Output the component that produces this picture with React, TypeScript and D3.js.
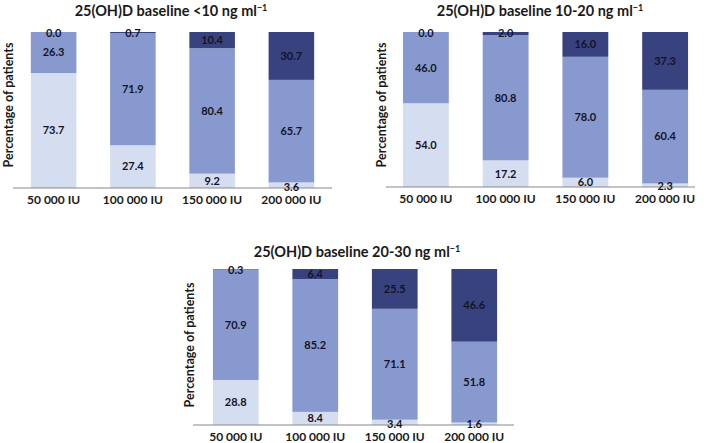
import React from "react";
import * as d3 from "d3";

const categories = ["50 000 IU", "100 000 IU", "150 000 IU", "200 000 IU"];
const titles = ["<10", "10-20", "20-30"];
const lightVals = [
  [73.7, 27.4, 9.2, 3.6],
  [54.0, 17.2, 6.0, 2.3],
  [28.8, 8.4, 3.4, 1.6],
];
const mediumVals = [
  [26.3, 71.9, 80.4, 65.7],
  [46.0, 80.8, 78.0, 60.4],
  [70.9, 85.2, 71.1, 51.8],
];
const darkVals = [
  [0.0, 0.7, 10.4, 30.7],
  [0.0, 2.0, 16.0, 37.3],
  [0.3, 6.4, 25.5, 46.6],
];

const COLORS = ["#d5ddf0", "#8899cf", "#38427f"];
const FONT = "Lato, 'Open Sans', sans-serif";

const panels = [
  { x0: 15, x1: 330, top: 32, bottom: 188, axisX0: 13, axisX1: 332, titleX: 171, titleY: 16, ylabX: 12.5, ylabY: 105 },
  { x0: 387, x1: 704, top: 32, bottom: 187, axisX0: 386, axisX1: 695, titleX: 540, titleY: 16, ylabX: 386, ylabY: 105 },
  { x0: 197, x1: 513, top: 269, bottom: 425, axisX0: 193, axisX1: 514, titleX: 357, titleY: 257, ylabX: 194, ylabY: 345 },
];

function Panel({ idx }: { idx: number }) {
  const p = panels[idx];
  const x = d3.scaleBand<string>().domain(categories).range([p.x0, p.x1]).paddingInner(0.425).paddingOuter(0.2);
  const y = d3.scaleLinear().domain([0, 100]).range([p.bottom, p.top]);
  const rows = categories.map((c, i) => ({
    cat: c,
    light: lightVals[idx][i],
    medium: mediumVals[idx][i],
    dark: darkVals[idx][i],
  }));
  const stack = d3.stack<any>().keys(["light", "medium", "dark"]);
  const series = stack(rows);
  return (
    <g>
      <text x={p.titleX} y={p.titleY} textAnchor="middle" fontFamily={FONT} fontWeight={700} fontSize={14.5} fill="#1a1a1a">
        25(OH)D baseline {titles[idx]} ng ml
        <tspan dy={-5} fontSize={9}>−1</tspan>
      </text>
      <text
        transform={`translate(${p.ylabX},${p.ylabY}) rotate(-90)`}
        textAnchor="middle"
        fontFamily={FONT}
        fontWeight={700}
        fontSize={12.5}
        fill="#1a1a1a"
      >
        Percentage of patients
      </text>
      {series.map((s, si) =>
        s.map((d, i) => {
          const y0 = y(d[0]);
          const y1 = y(d[1]);
          const h = Math.max(0, y0 - y1);
          return (
            <rect key={`r${si}-${i}`} x={x(categories[i])} y={y1} width={x.bandwidth()} height={h} fill={COLORS[si]} />
          );
        })
      )}
      <line x1={p.axisX0} x2={p.axisX1} y1={p.bottom} y2={p.bottom} stroke="#888" strokeWidth={1.2} />
      {series.map((s, si) =>
        s.map((d, i) => {
          const v = d[1] - d[0];
          let cy = (y(d[0]) + y(d[1])) / 2;
          if (si === 0 && v < 4) cy = p.bottom - 0.5;
          if (si === 2 && v < 1) cy = p.top + 1;
          return (
            <text
              key={`t${si}-${i}`}
              x={(x(categories[i]) as number) + x.bandwidth() / 2}
              y={cy}
              dy="0.35em"
              textAnchor="middle"
              fontFamily={FONT}
              fontWeight={700}
              fontSize={11}
              fill="#141425"
            >
              {v.toFixed(1)}
            </text>
          );
        })
      )}
      {categories.map((c) => (
        <text
          key={c}
          x={(x(c) as number) + x.bandwidth() / 2}
          y={p.bottom + 16}
          textAnchor="middle"
          fontFamily={FONT}
          fontWeight={700}
          fontSize={12}
          fill="#1a1a1a"
        >
          {c}
        </text>
      ))}
    </g>
  );
}

export default function App() {
  return (
    <svg width={708} height={443} style={{ position: "absolute", left: 0, top: 0, background: "#fff" }}>
      <rect width={708} height={443} fill="#fff" />
      {panels.map((_, i) => (
        <Panel key={i} idx={i} />
      ))}
    </svg>
  );
}
